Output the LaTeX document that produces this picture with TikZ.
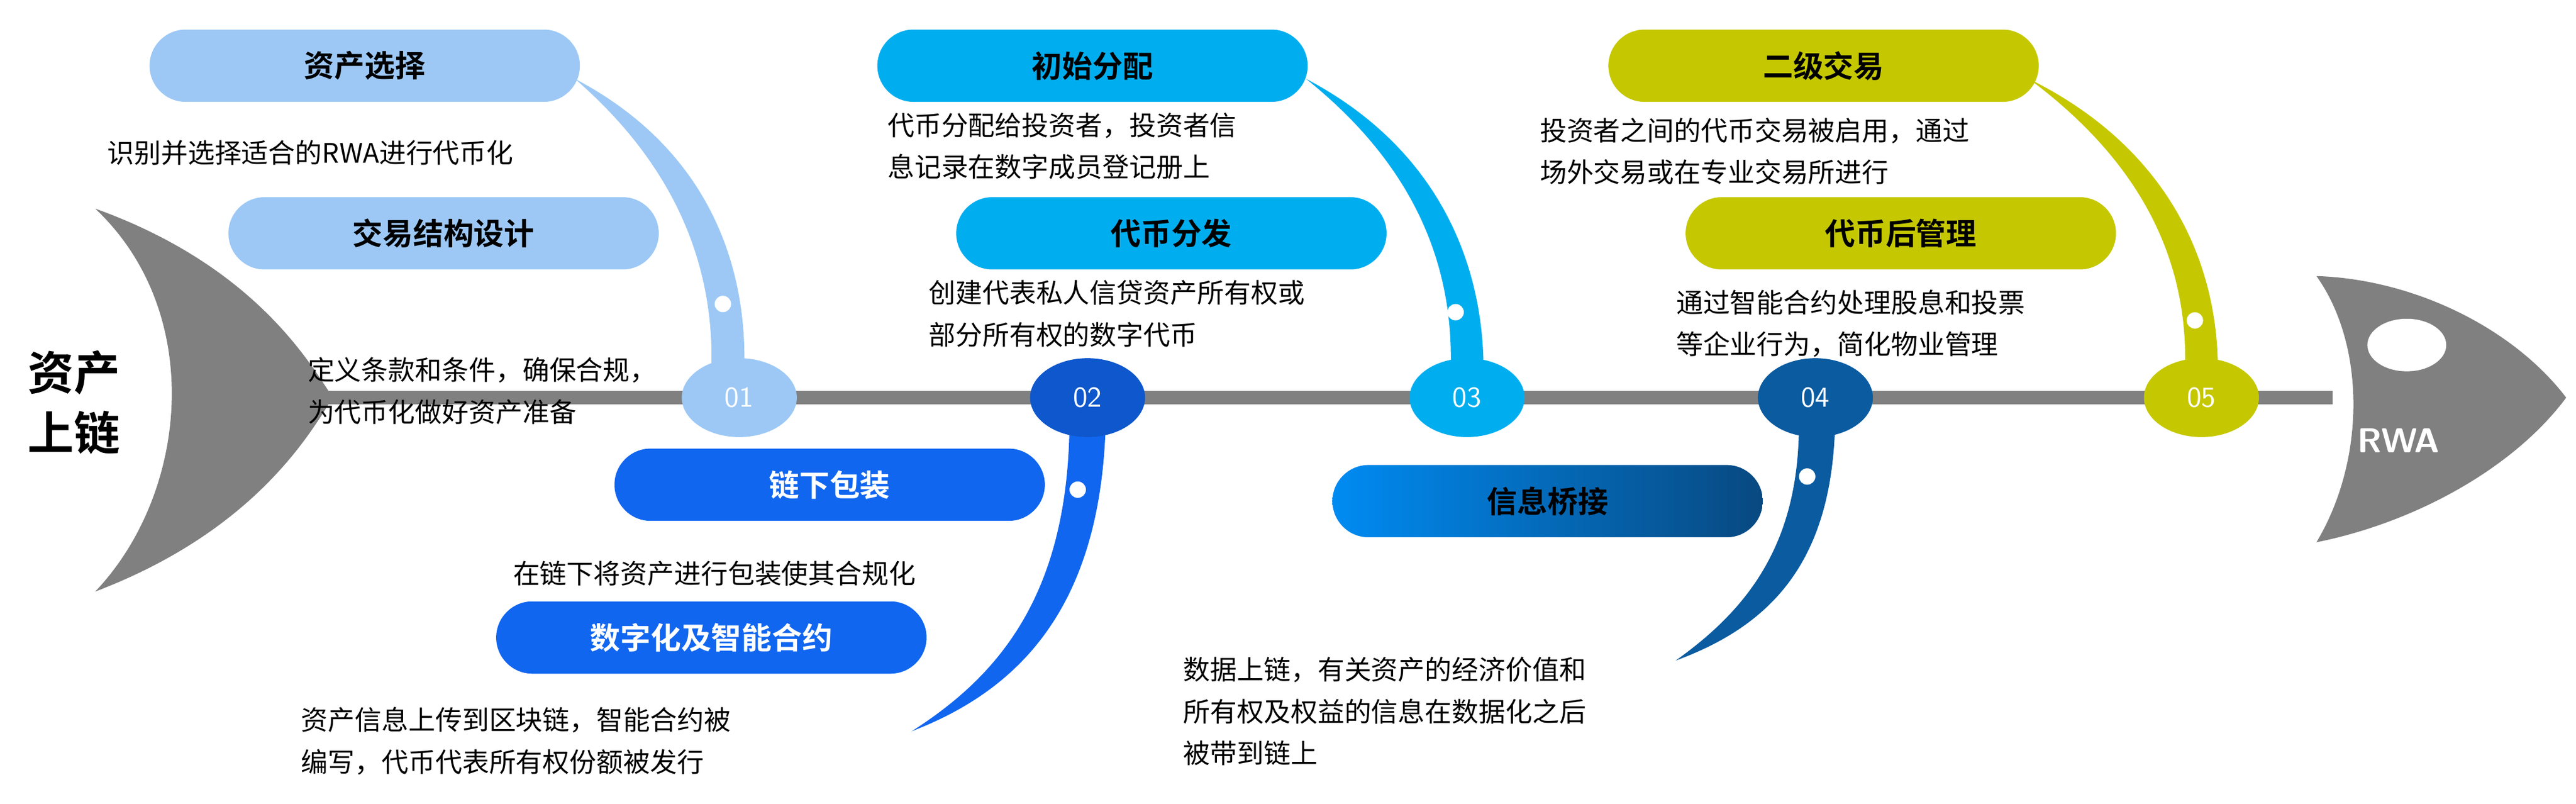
\documentclass[tikz,border=0pt]{standalone}
\usepackage{fontspec}
\setmainfont{Noto Sans CJK SC}[BoldFont={* Bold}]
\usetikzlibrary{shapes.geometric,positioning}
\definecolor{lblue}{HTML}{9DC8F5}
\definecolor{mblue}{HTML}{1166F0}
\definecolor{cyanb}{HTML}{00AEEF}
\definecolor{dblue}{HTML}{0A5BA0}
\definecolor{olive}{HTML}{C5C800}
\definecolor{fishgray}{HTML}{808080}
\begin{document}
\begin{tikzpicture}[x=0.02cm,y=-0.02cm,
    stage/.style={rounded corners=0.44cm, minimum width=5.24cm, minimum height=0.88cm,
      font=\fontsize{10.5}{12}\selectfont\bfseries, inner sep=0},
    num/.style={ellipse, minimum width=1.4cm, minimum height=0.96cm, inner sep=0,
      text=white, font=\sffamily\fontsize{10}{11}\selectfont},
    desc/.style={font=\fontsize{9.3}{14.5}\selectfont, align=left, anchor=west, inner sep=0},
    dot/.style={circle, fill=white, minimum size=0.2cm, inner sep=0}]
    \useasboundingbox (0,0) rectangle (1568,489);
    % tail, spine and head
    \fill[fishgray] (58,127) .. controls (150,160) and (185,215) .. (200,238)
      -- (200,246) .. controls (185,270) and (150,325) .. (58,360)
      .. controls (115,300) and (125,190) .. (58,127);
    \fill[fishgray] (190,238) rectangle (1420,246);
    \fill[fishgray] (1410,168) .. controls (1470,170) and (1530,200) .. (1562,242)
      .. controls (1530,285) and (1470,318) .. (1410,330)
      .. controls (1440,280) and (1440,210) .. (1410,168);
    \fill[white] (1465,210) ellipse (24 and 16);
    \node[text=white, font=\sffamily\bfseries\fontsize{12}{14}\selectfont] (rwa) at (1460,268) {RWA};
    \node[font=\fontsize{16}{21}\selectfont\bfseries, align=center] (title) at (45,245) {资产\\上链};
    % swooshes
    \fill[lblue] (350,48) .. controls (430,90) and (455,160) .. (453,225)
      -- (433,225) .. controls (435,160) and (410,100) .. (350,48);
    \fill[mblue] (673,258) .. controls (670,370) and (620,420) .. (555,445)
      .. controls (610,410) and (650,360) .. (651,258);
    \fill[cyanb] (795,48) .. controls (875,90) and (903,160) .. (903,225)
      -- (883,225) .. controls (885,160) and (860,100) .. (795,48);
    \fill[dblue] (1117,258) .. controls (1115,340) and (1080,380) .. (1020,402)
      .. controls (1065,370) and (1095,330) .. (1095,258);
    \fill[olive] (1235,48) .. controls (1320,90) and (1350,160) .. (1350,225)
      -- (1330,225) .. controls (1332,160) and (1305,100) .. (1235,48);
    \node[dot] (d1) at (440,185) {};
    \node[dot] (d2) at (656,298) {};
    \node[dot] (d3) at (886,190) {};
    \node[dot] (d4) at (1100,290) {};
    \node[dot] (d5) at (1336,195) {};
    % numbered stages
    \node[num, fill=lblue] (n1) at (450,242) {01};
    \node[num, fill=mblue!85!black] (n2) at (662,242) {02};
    \node[num, fill=cyanb] (n3) at (893,242) {03};
    \node[num, fill=dblue] (n4) at (1105,242) {04};
    \node[num, fill=olive] (n5) at (1340,242) {05};
    % stage boxes
    \node[stage, fill=lblue] (s1) at (222,40) {资产选择};
    \node[stage, fill=lblue] (s2) at (270,142) {交易结构设计};
    \node[stage, fill=cyanb] (s3) at (665,40) {初始分配};
    \node[stage, fill=cyanb] (s4) at (713,142) {代币分发};
    \node[stage, fill=olive] (s5) at (1110,40) {二级交易};
    \node[stage, fill=olive] (s6) at (1157,142) {代币后管理};
    \node[stage, fill=mblue, text=white] (s7) at (505,295) {链下包装};
    \node[stage, fill=mblue, text=white] (s8) at (433,388) {数字化及智能合约};
    \node[stage, left color=cyanb!80!blue, right color=dblue!80!black] (s9) at (942,305) {信息桥接};
    % descriptions
    \node[desc] (t1) at (65,93) {识别并选择适合的RWA进行代币化};
    \node[desc] (t2) at (187,238) {定义条款和条件，确保合规，\\为代币化做好资产准备};
    \node[desc] (t3) at (540,89) {代币分配给投资者，投资者信\\息记录在数字成员登记册上};
    \node[desc] (t4) at (565,191) {创建代表私人信贷资产所有权或\\部分所有权的数字代币};
    \node[desc] (t5) at (937,92) {投资者之间的代币交易被启用，通过\\场外交易或在专业交易所进行};
    \node[desc] (t6) at (1020,197) {通过智能合约处理股息和投票\\等企业行为，简化物业管理};
    \node[desc] (t7) at (312,349) {在链下将资产进行包装使其合规化};
    \node[desc] (t8) at (183,451) {资产信息上传到区块链，智能合约被\\编写，代币代表所有权份额被发行};
    \node[desc] (t9) at (720,433) {数据上链，有关资产的经济价值和\\所有权及权益的信息在数据化之后\\被带到链上};
\end{tikzpicture}
\end{document}
